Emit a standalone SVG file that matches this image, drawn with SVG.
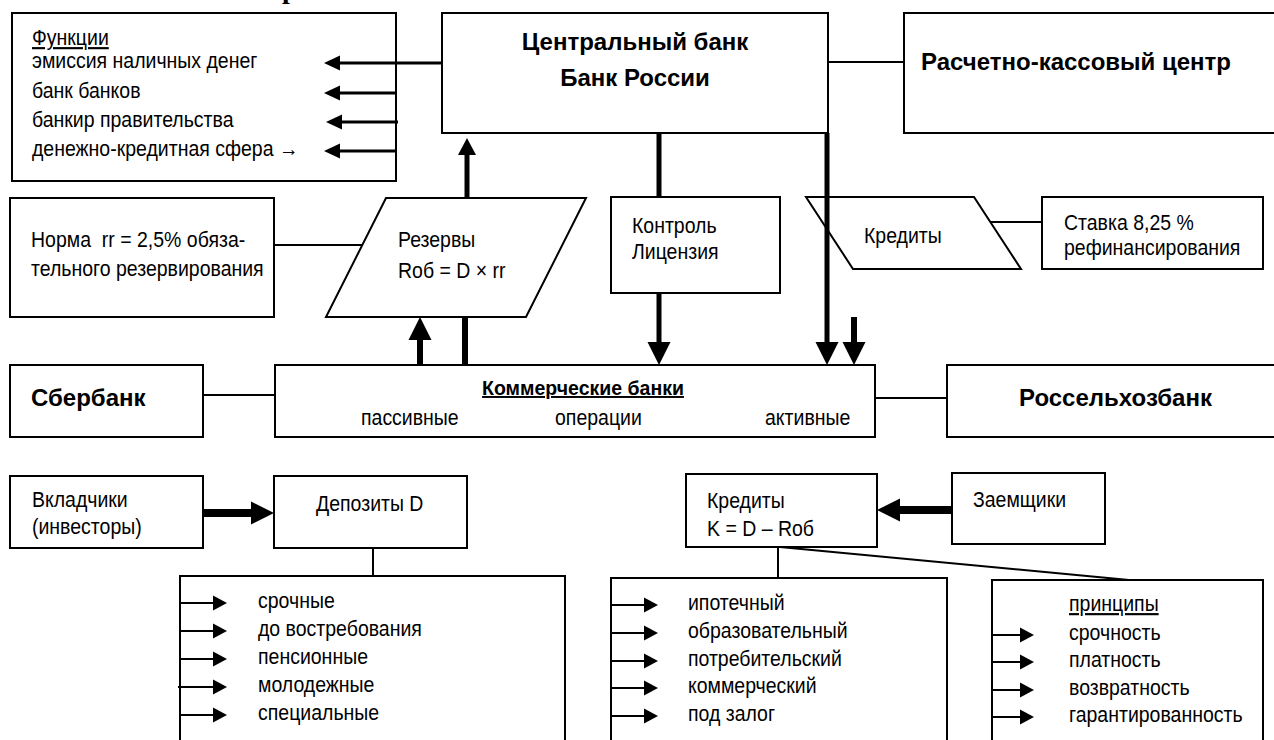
<svg xmlns="http://www.w3.org/2000/svg" width="1274" height="740" viewBox="0 0 1274 740">
<style>
.box{fill:#fff;stroke:#000;stroke-width:2}
.t{font-family:"Liberation Sans",Arial,sans-serif;font-size:19.5px;fill:#000}
.b{font-weight:bold;font-size:24px}
.u{text-decoration:underline}
.ln{stroke:#000;stroke-width:2;fill:none}
.f3{stroke-width:3}
.th{stroke-width:5}
.th6{stroke-width:6}
.th8{stroke-width:8}
</style>
<defs>
<marker id="ahF" markerUnits="userSpaceOnUse" viewBox="0 -8 16 16" refX="0" refY="0" markerWidth="16" markerHeight="16" orient="auto" overflow="visible"><path d="M0,-7.5 L16,0 L0,7.5 z"/></marker>
<marker id="ahS" markerUnits="userSpaceOnUse" viewBox="0 -8 14 16" refX="0" refY="0" markerWidth="14" markerHeight="16" orient="auto" overflow="visible"><path d="M0,-7.5 L14,0 L0,7.5 z"/></marker>
<marker id="ahM" markerUnits="userSpaceOnUse" viewBox="0 -9 17 18" refX="0" refY="0" markerWidth="17" markerHeight="18" orient="auto" overflow="visible"><path d="M0,-9 L17,0 L0,9 z"/></marker>
<marker id="ahL" markerUnits="userSpaceOnUse" viewBox="0 -12 23 24" refX="0" refY="0" markerWidth="23" markerHeight="24" orient="auto" overflow="visible"><path d="M0,-11.5 L23,0 L0,11.5 z"/></marker>
</defs>
<rect width="1274" height="740" fill="#fff"/>
<text x="282" y="-2" font-family="'Liberation Serif','Times New Roman',serif" font-weight="bold" font-size="28">р</text>

<g id="n-functions">
<rect class="box" x="12" y="13" width="384" height="168"/>
<text class="t u" x="32" y="45" transform="matrix(1 0 0 1.1 0 -4.5)">Функции</text>
<text class="t" x="32" y="68" transform="matrix(1 0 0 1.1 0 -6.8)">эмиссия наличных денег</text>
<text class="t" x="32" y="98" transform="matrix(1 0 0 1.1 0 -9.8)">банк банков</text>
<text class="t" x="32" y="127" transform="matrix(1 0 0 1.1 0 -12.7)">банкир правительства</text>
<text class="t" x="32" y="156" transform="matrix(1 0 0 1.1 0 -15.6)">денежно-кредитная сфера →</text>
</g>
<g id="n-cb">
<rect class="box" x="442" y="13" width="386" height="120"/>
<text class="t b" x="635" y="50" text-anchor="middle">Центральный банк</text>
<text class="t b" x="635" y="86" text-anchor="middle">Банк России</text>
</g>
<g id="n-rkc">
<rect class="box" x="904" y="13" width="380" height="120"/>
<text class="t b" x="921" y="70">Расчетно-кассовый центр</text>
</g>
<g id="n-norma">
<rect class="box" x="10" y="198" width="264" height="119"/>
<text class="t" x="31" y="247" transform="matrix(1 0 0 1.1 0 -24.7)">Норма&#160; rr = 2,5% обяза-</text>
<text class="t" x="31" y="276" transform="matrix(1 0 0 1.1 0 -27.6)">тельного резервирования</text>
</g>
<g id="n-reserves">
<polygon class="box" points="386,198 586,198 526,317 326,317"/>
<text class="t" x="398" y="247" transform="matrix(1 0 0 1.1 0 -24.7)">Резервы</text>
<text class="t" x="398" y="278" transform="matrix(1 0 0 1.1 0 -27.8)">Rоб = D × rr</text>
</g>
<g id="n-control">
<rect class="box" x="611" y="197" width="169" height="96"/>
<text class="t" x="632" y="233" transform="matrix(1 0 0 1.1 0 -23.3)">Контроль</text>
<text class="t" x="632" y="259" transform="matrix(1 0 0 1.1 0 -25.9)">Лицензия</text>
</g>
<g id="n-credits-cb">
<polygon class="box" points="806,197 974,197 1021,269 853,269"/>
<text class="t" x="864" y="243" transform="matrix(1 0 0 1.1 0 -24.3)">Кредиты</text>
</g>
<g id="n-rate">
<rect class="box" x="1042" y="197" width="221" height="72"/>
<text class="t" x="1064" y="230" transform="matrix(1 0 0 1.1 0 -23)">Ставка 8,25 %</text>
<text class="t" x="1064" y="255" transform="matrix(1 0 0 1.1 0 -25.5)">рефинансирования</text>
</g>
<g id="n-sber">
<rect class="box" x="10" y="365" width="193" height="72"/>
<text class="t b" x="31" y="406">Сбербанк</text>
</g>
<g id="n-commercial">
<rect class="box" x="275" y="365" width="600" height="72"/>
<text class="t u" x="583" y="395" text-anchor="middle" font-weight="bold" font-size="18">Коммерческие банки</text>
<text class="t" x="361" y="425" transform="matrix(1 0 0 1.1 0 -42.5)">пассивные</text>
<text class="t" x="555" y="425" transform="matrix(1 0 0 1.1 0 -42.5)">операции</text>
<text class="t" x="765" y="425" transform="matrix(1 0 0 1.1 0 -42.5)">активные</text>
</g>
<g id="n-rosselkhoz">
<rect class="box" x="947" y="365" width="340" height="72"/>
<text class="t b" x="1019" y="406">Россельхозбанк</text>
</g>
<g id="n-depositors">
<rect class="box" x="10" y="476" width="193" height="72"/>
<text class="t" x="32" y="507" transform="matrix(1 0 0 1.1 0 -50.7)">Вкладчики</text>
<text class="t" x="32" y="534" transform="matrix(1 0 0 1.1 0 -53.4)">(инвесторы)</text>
</g>
<g id="n-deposits">
<rect class="box" x="274" y="476" width="193" height="72"/>
<text class="t" x="316" y="511" transform="matrix(1 0 0 1.1 0 -51.1)">Депозиты D</text>
</g>
<g id="n-loans">
<rect class="box" x="686" y="474" width="191" height="73"/>
<text class="t" x="707" y="508" transform="matrix(1 0 0 1.1 0 -50.8)">Кредиты</text>
<text class="t" x="707" y="536" transform="matrix(1 0 0 1.1 0 -53.6)">K = D – Rоб</text>
</g>
<g id="n-borrowers">
<rect class="box" x="952" y="473" width="153" height="71"/>
<text class="t" x="973" y="507" transform="matrix(1 0 0 1.1 0 -50.7)">Заемщики</text>
</g>
<g id="n-deposit-types">
<rect class="box" x="180" y="576" width="385" height="180"/>
<text class="t" x="258" y="608" transform="matrix(1 0 0 1.1 0 -60.8)">срочные</text>
<text class="t" x="258" y="636" transform="matrix(1 0 0 1.1 0 -63.6)">до востребования</text>
<text class="t" x="258" y="664" transform="matrix(1 0 0 1.1 0 -66.4)">пенсионные</text>
<text class="t" x="258" y="692" transform="matrix(1 0 0 1.1 0 -69.2)">молодежные</text>
<text class="t" x="258" y="720" transform="matrix(1 0 0 1.1 0 -72)">специальные</text>
</g>
<g id="n-loan-types">
<rect class="box" x="611" y="578" width="336" height="180"/>
<text class="t" x="688" y="610" transform="matrix(1 0 0 1.1 0 -61)">ипотечный</text>
<text class="t" x="688" y="638" transform="matrix(1 0 0 1.1 0 -63.8)">образовательный</text>
<text class="t" x="688" y="666" transform="matrix(1 0 0 1.1 0 -66.6)">потребительский</text>
<text class="t" x="688" y="693" transform="matrix(1 0 0 1.1 0 -69.3)">коммерческий</text>
<text class="t" x="688" y="721" transform="matrix(1 0 0 1.1 0 -72.1)">под залог</text>
</g>
<g id="n-principles">
<rect class="box" x="992" y="580" width="271" height="180"/>
<text class="t u" x="1069" y="611" transform="matrix(1 0 0 1.1 0 -61.1)">принципы</text>
<text class="t" x="1069" y="640" transform="matrix(1 0 0 1.1 0 -64)">срочность</text>
<text class="t" x="1069" y="667" transform="matrix(1 0 0 1.1 0 -66.7)">платность</text>
<text class="t" x="1069" y="695" transform="matrix(1 0 0 1.1 0 -69.5)">возвратность</text>
<text class="t" x="1069" y="722" transform="matrix(1 0 0 1.1 0 -72.2)">гарантированность</text>
</g>

<g id="connectors">
<path class="ln f3" d="M442,63 H340" marker-end="url(#ahF)"/>
<path class="ln f3" d="M396,93 H340" marker-end="url(#ahF)"/>
<path class="ln f3" d="M398,122 H342" marker-end="url(#ahF)"/>
<path class="ln f3" d="M396,151 H340" marker-end="url(#ahF)"/>
<path class="ln" d="M828,62 H904"/>
<path class="ln" d="M274,245 H362"/>
<path class="ln th" d="M467,198 V155" marker-end="url(#ahM)"/>
<path class="ln th6" d="M465,365 V317"/>
<path class="ln th6" d="M420,365 V340" marker-end="url(#ahL)"/>
<path class="ln th" d="M659,133 V197"/>
<path class="ln th" d="M659,293 V342" marker-end="url(#ahL)"/>
<path class="ln th" d="M827,133 V342" marker-end="url(#ahL)"/>
<path class="ln th6" d="M854,317 V342" marker-end="url(#ahL)"/>
<path class="ln" d="M990,222 H1042"/>
<path class="ln" d="M203,395 H275"/>
<path class="ln" d="M875,398 H947"/>
<path class="ln th8" d="M203,513 H251" marker-end="url(#ahL)"/>
<path class="ln th8" d="M952,510 H900" marker-end="url(#ahL)"/>
<path class="ln" d="M373,548 V576"/>
<path class="ln" d="M778,547 V578"/>
<path class="ln" d="M780,547 L1129,580"/>
<path class="ln" d="M180,603 H213" marker-end="url(#ahS)"/>
<path class="ln" d="M180,631 H213" marker-end="url(#ahS)"/>
<path class="ln" d="M180,659 H213" marker-end="url(#ahS)"/>
<path class="ln" d="M178,687 H213" marker-end="url(#ahS)"/>
<path class="ln" d="M180,715 H213" marker-end="url(#ahS)"/>
<path class="ln" d="M611,605 H644" marker-end="url(#ahS)"/>
<path class="ln" d="M611,633 H644" marker-end="url(#ahS)"/>
<path class="ln" d="M611,661 H644" marker-end="url(#ahS)"/>
<path class="ln" d="M611,688 H644" marker-end="url(#ahS)"/>
<path class="ln" d="M611,716 H644" marker-end="url(#ahS)"/>
<path class="ln" d="M992,635 H1020" marker-end="url(#ahS)"/>
<path class="ln" d="M992,662 H1020" marker-end="url(#ahS)"/>
<path class="ln" d="M992,690 H1020" marker-end="url(#ahS)"/>
<path class="ln" d="M992,717 H1020" marker-end="url(#ahS)"/>
</g>
</svg>
